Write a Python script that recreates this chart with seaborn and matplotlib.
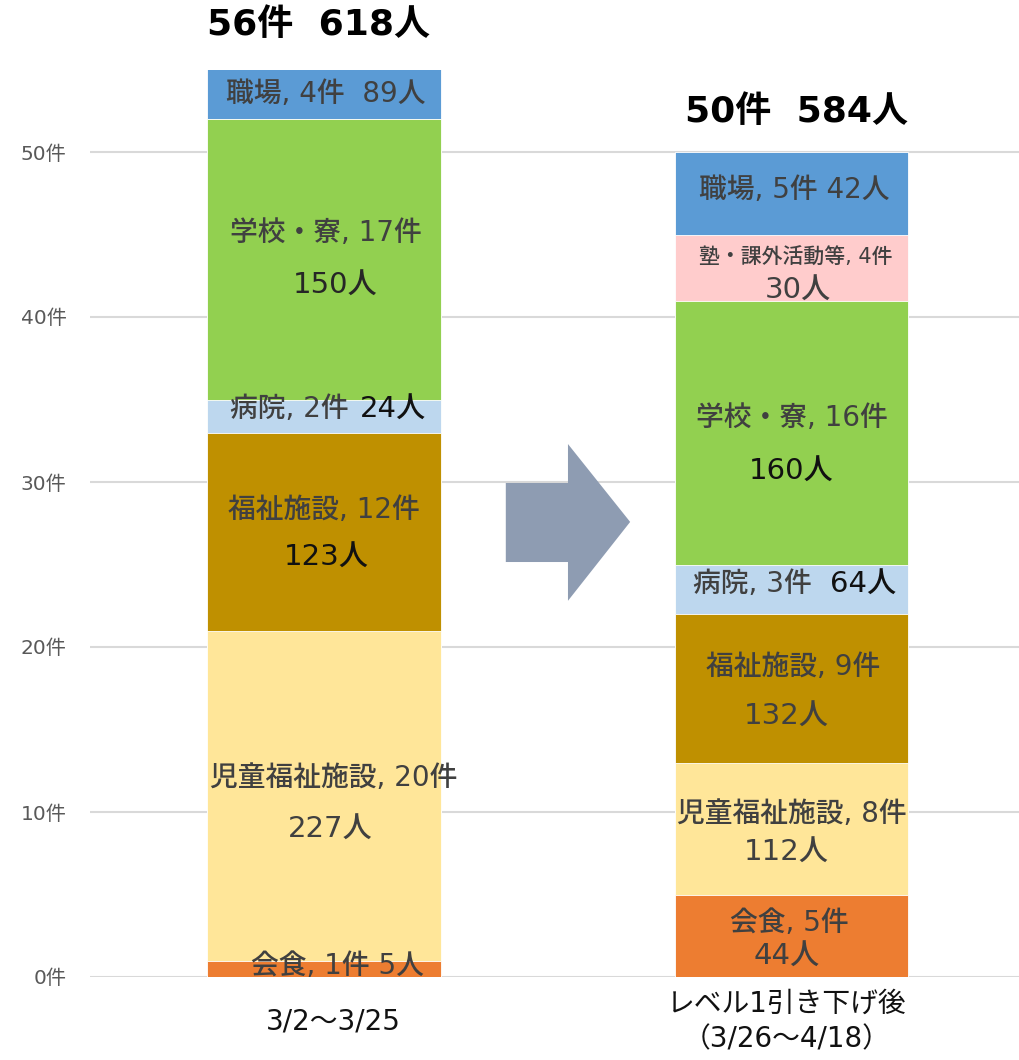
import matplotlib
matplotlib.use("Agg")
import matplotlib.pyplot as plt
import seaborn as sns
import numpy as np
import pandas as pd
from matplotlib.patches import Polygon

# ---------------- data ----------------
periods = ["3/2～3/25", "レベル1引き下げ後\n（3/26～4/18）"]
categories = ["会食", "児童福祉施設", "福祉施設", "病院", "学校・寮", "塾・課外活動等", "職場"]
cases_before = [1, 20, 12, 2, 17, 0, 4]
cases_after = [5, 8, 9, 3, 16, 4, 5]
people_before = [5, 227, 123, 24, 150, 0, 89]
people_after = [44, 112, 132, 64, 160, 30, 42]
colors = ["#ED7D31", "#FFE699", "#BF9000", "#BDD7EE", "#92D050", "#FFCCCC", "#5B9BD5"]
yticks = [0, 10, 20, 30, 40, 50]

sns.set_theme(style="white")
FAM = ["DejaVu Sans", "Noto Sans CJK JP"]
plt.rcParams["font.family"] = FAM

fig = plt.figure(figsize=(10.2, 10.6), dpi=100)
ax = fig.add_axes([90 / 1020, 83 / 1060, (1020 - 90) / 1020, (977 - 69.5) / 1060])

# stacked bars via cumulative overlay (top segment drawn first)
cum_before = np.cumsum(cases_before)
cum_after = np.cumsum(cases_after)
for i in range(len(categories) - 1, -1, -1):
    df = pd.DataFrame({"period": periods, "value": [cum_before[i], cum_after[i]]})
    sns.barplot(data=df, x="period", y="value", color=colors[i], width=0.5,
                saturation=1, edgecolor="white", linewidth=0.6, ax=ax, zorder=2)

ax.set_ylim(0, 55)
ax.set_xlim(-0.5005, 1.489)
ax.set_yticks(yticks)
ax.set_yticklabels([f"{v}件" for v in yticks], color="#595959", fontsize=14.5)
ax.tick_params(axis="y", length=0, pad=17)
ax.tick_params(axis="x", length=0, pad=32)
ax.set_xticks([0.02, 0.99])
ax.set_xticklabels(periods, fontsize=20, color="#111111", linespacing=1.36)
for lab in ax.get_xticklabels():
    lab.set_verticalalignment("center")
ax.set_xlabel("")
ax.set_ylabel("")
for s in ax.spines.values():
    s.set_visible(False)
ax.yaxis.grid(True, color="#D9D9D9", linewidth=1.5, zorder=0)
ax.set_axisbelow(True)

gray = "#404040"
black = "#111111"

def t(x, y, s, size=20, color=gray, ha="center", weight="medium"):
    ax.text(x, y, s, ha=ha, va="center", fontsize=size, color=color,
            fontweight=weight, family=FAM, clip_on=False, zorder=5)

cb, pb, ca, pa = cases_before, people_before, cases_after, people_after
c = categories
CS = 21  # size of people counts

# totals
t(-0.012, 57.7, f"{sum(cb)}件  {sum(pb)}人", size=26, color="#000000", weight="bold")
t(1.01, 52.4, f"{sum(ca)}件  {sum(pa)}人", size=26, color="#000000", weight="bold")

# left bar labels
t(0.004, 53.5, f"{c[6]}, {cb[6]}件  {pb[6]}人")
t(0.004, 45.1, f"{c[4]}, {cb[4]}件")
t(0.024, 41.9, f"{pb[4]}人", size=CS, color="#262626")
t(0.053, 34.4, f"{c[3]}, {cb[3]}件", ha="right")
t(0.077, 34.4, f"{pb[3]}人", size=CS, color=black, ha="left")
t(0.0, 28.3, f"{c[2]}, {cb[2]}件")
t(0.004, 25.4, f"{pb[2]}人", size=CS, color=black)
t(0.021, 12.06, f"{c[1]}, {cb[1]}件")
t(0.013, 8.9, f"{pb[1]}人", size=CS)
t(0.028, 0.67, f"{c[0]}, {cb[0]}件 {pb[0]}人")

# right bar labels
t(1.005, 47.7, f"{c[6]}, {ca[6]}件 {pa[6]}人")
t(1.01, 43.6, f"{c[5]}, {ca[5]}件", size=15)
t(1.014, 41.6, f"{pa[5]}人", size=CS)
t(1.0, 33.9, f"{c[4]}, {ca[4]}件")
t(1.0, 30.6, f"{pa[4]}人", size=CS, color=black)
t(1.044, 23.8, f"{c[3]}, {ca[3]}件", ha="right")
t(1.082, 23.8, f"{pa[3]}人", size=CS, color=black, ha="left")
t(1.004, 18.8, f"{c[2]}, {ca[2]}件")
t(0.99, 15.8, f"{pa[2]}人", size=CS)
t(1.0, 9.9, f"{c[1]}, {ca[1]}件")
t(0.988, 7.5, f"{pa[1]}人", size=CS)
t(0.995, 3.3, f"{c[0]}, {ca[0]}件")
t(0.99, 1.2, f"{pa[0]}人", size=CS)

# arrow between bars
arrow = Polygon([(0.389, 29.94), (0.522, 29.94), (0.522, 32.3), (0.655, 27.58),
                 (0.522, 22.8), (0.522, 25.15), (0.389, 25.15)],
                closed=True, facecolor="#8E9CB2", edgecolor="none", zorder=1)
ax.add_patch(arrow)

fig.savefig("out.png", dpi=100)
